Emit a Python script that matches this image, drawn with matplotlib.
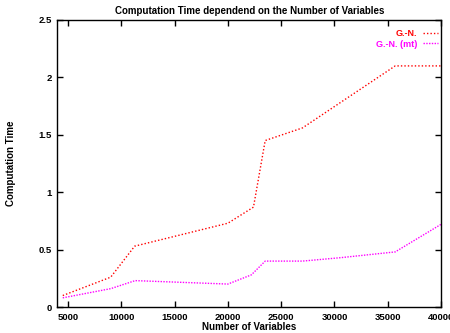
import matplotlib
matplotlib.use("Agg")
import matplotlib.pyplot as plt

plt.rcParams['font.family'] = ['Liberation Sans', 'DejaVu Sans']

x_gn = [4500, 9000, 11250, 20000, 22400, 23500, 27000, 35700, 40000]
y_gn = [0.10, 0.26, 0.53, 0.73, 0.87, 1.45, 1.56, 2.10, 2.10]
x_mt = [4500, 9000, 11300, 20000, 22200, 23500, 27000, 30600, 35700, 40000]
y_mt = [0.08, 0.16, 0.23, 0.20, 0.28, 0.40, 0.40, 0.43, 0.48, 0.72]
xticks = [5000, 10000, 15000, 20000, 25000, 30000, 35000, 40000]
yticks = [0, 0.5, 1, 1.5, 2, 2.5]
yticklabels = ["0", "0.5", "1", "1.5", "2", "2.5"]

fig = plt.figure(figsize=(4.5, 3.33), dpi=100)
ax = fig.add_axes([0.1276, 0.078, 0.8524, 0.862])
ax.plot(x_gn, y_gn, color='#ff0000', linestyle=(0, (1, 1.5)), linewidth=1, label='G.-N.')
ax.plot(x_mt, y_mt, color='#ff00ff', linestyle=(0, (1, 1)), linewidth=1, label='G.-N. (mt)')
ax.set_xlim(4000, 40000)
ax.set_ylim(0, 2.5)
ax.set_xticks(xticks)
ax.set_xticklabels([str(t) for t in xticks])
ax.set_yticks(yticks)
ax.set_yticklabels(yticklabels)
ax.tick_params(direction='in', top=True, right=True, length=4, width=1, labelsize=6.8, pad=4)
for lab in ax.get_xticklabels() + ax.get_yticklabels():
    lab.set_fontweight('bold')
for s in ax.spines.values():
    s.set_linewidth(1)
ax.set_title('Computation Time dependend on the Number of Variables', fontsize=7, fontweight='bold', pad=4)
ax.set_xlabel('Number of Variables', fontsize=7, fontweight='bold', labelpad=0)
ax.set_ylabel('Computation Time', fontsize=7, fontweight='bold', labelpad=16)
leg = ax.legend(loc='upper right', bbox_to_anchor=(1.005, 0.985), frameon=False, markerfirst=False,
                labelcolor='linecolor', prop={'size': 6.5, 'weight': 'bold'}, handlelength=1.7,
                borderaxespad=0.05, labelspacing=0.15, handletextpad=0.6, borderpad=0.5)
fig.savefig('out.png', dpi=100)
